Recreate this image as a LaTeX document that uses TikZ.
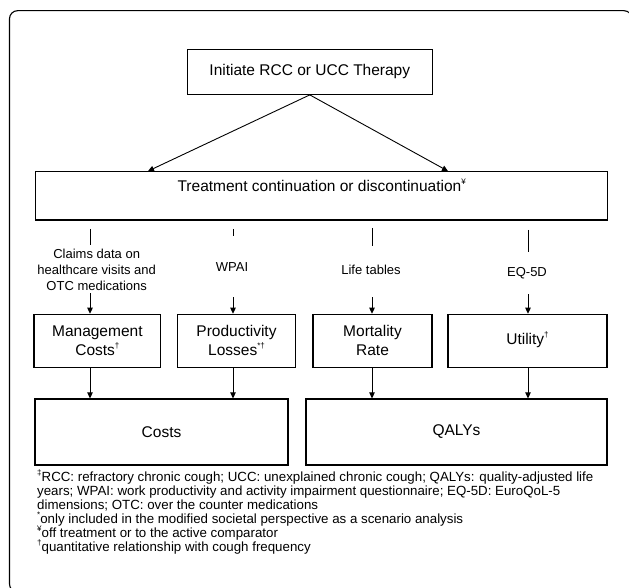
\documentclass[tikz,border=0pt]{standalone}
\usepackage{fontspec}
\setmainfont{Liberation Sans}
\usetikzlibrary{arrows.meta}
\newcommand\mysup[1]{\smash{\raisebox{0.45em}{\fontsize{8}{8}\selectfont #1}}}
\begin{document}
\begin{tikzpicture}[x=1pt,y=-1pt,
  box/.style={draw, line width=1.2pt, inner sep=0pt, align=center, font=\fontsize{15.5}{19}\selectfont},
  lab/.style={inner sep=0pt, align=center, font=\fontsize{13}{16}\selectfont},
  conn/.style={line width=0.9pt},
  arr/.style={conn, -{Triangle[length=6pt,width=5.5pt]}},
]
\useasboundingbox (0,0) rectangle (629,588);
\draw[line width=1.1pt, rounded corners=8pt] (9.5,10.7) rectangle (632,592);

% boxes
\node[box, minimum width=245pt, minimum height=45pt] (init) at (309.8,71.8) {Initiate RCC or UCC Therapy};
\node[box, minimum width=572pt, minimum height=48.3pt,
  label={[font=\fontsize{15.5}{19}\selectfont, yshift=10pt]center:Treatment continuation or discontinuation\mysup{¥}}] (treat) at (321.7,195.85) {};
\node[box, minimum width=126.7pt, minimum height=53pt] (mgmt) at (97.35,340.8) {Management\\Costs\mysup{†}};
\node[box, minimum width=118.4pt, minimum height=53pt] (prod) at (236.5,340.8) {Productivity\\Losses\mysup{*†}};
\node[box, minimum width=119pt, minimum height=53pt] (mort) at (372.5,340.8) {Mortality\\Rate};
\node[box, minimum width=159pt, minimum height=53pt] (util) at (527.5,340.8) {Utility\mysup{†}};
\node[box, minimum width=253pt, minimum height=66pt] (costs) at (161.5,432) {Costs};
\node[box, minimum width=301pt, minimum height=66pt] (qalys) at (456.5,432) {QALYs};

% source labels
\node[lab] (lab1) at (96.7,270) {Claims data on\\healthcare visits and\\OTC medications};
\node[lab] (lab2) at (232,267) {WPAI};
\node[lab] (lab3) at (371,270) {Life tables};
\node[lab] (lab4) at (527,273) {EQ-5D};

% column x positions
\coordinate (c1) at (90,0);
\coordinate (c2) at (233,0);
\coordinate (c3) at (372,0);
\coordinate (c4) at (528,0);

% top arrows
\coordinate (tipL) at (148,0);
\coordinate (tipR) at (448,0);
\draw[arr] (init.south) -- (treat.north -| tipL);
\draw[arr] (init.south) -- (treat.north -| tipR);

% short lines under treatment box
\coordinate (s1a) at (90,229);  \coordinate (s1b) at (90,245);
\coordinate (s2a) at (233,229); \coordinate (s2b) at (233,236);
\coordinate (s3a) at (372,228); \coordinate (s3b) at (372,246);
\coordinate (s4a) at (528,230); \coordinate (s4b) at (528,252);
\draw[conn] (s1a) -- (s1b);
\draw[conn] (s2a) -- (s2b);
\draw[conn] (s3a) -- (s3b);
\draw[conn] (s4a) -- (s4b);

% arrows into second-level boxes
\coordinate (a1) at (90,293);
\coordinate (a2) at (233,297);
\coordinate (a3) at (372,297);
\coordinate (a4) at (528,294);
\draw[arr] (a1) -- (mgmt.north -| c1);
\draw[arr] (a2) -- (prod.north -| c2);
\draw[arr] (a3) -- (mort.north -| c3);
\draw[arr] (a4) -- (util.north -| c4);

% arrows into outcome boxes
\draw[arr] (mgmt.south -| c1) -- (costs.north -| c1);
\draw[arr] (prod.south -| c2) -- (costs.north -| c2);
\draw[arr] (mort.south -| c3) -- (qalys.north -| c3);
\draw[arr] (util.south -| c4) -- (qalys.north -| c4);

% footnotes
\node[inner sep=0pt, anchor=base west, align=left, font=\fontsize{13.3}{14}\selectfont] (notes) at (37,551)
{\mysup{‡}RCC: refractory chronic cough; UCC: unexplained chronic cough; QALYs: quality-adjusted life\\
years; WPAI: work productivity and activity impairment questionnaire; EQ-5D: EuroQoL-5\\
dimensions; OTC: over the counter medications\\
\mysup{*}only included in the modified societal perspective as a scenario analysis\\
\mysup{¥}off treatment or to the active comparator\\
\mysup{†}quantitative relationship with cough frequency};
\end{tikzpicture}
\end{document}
